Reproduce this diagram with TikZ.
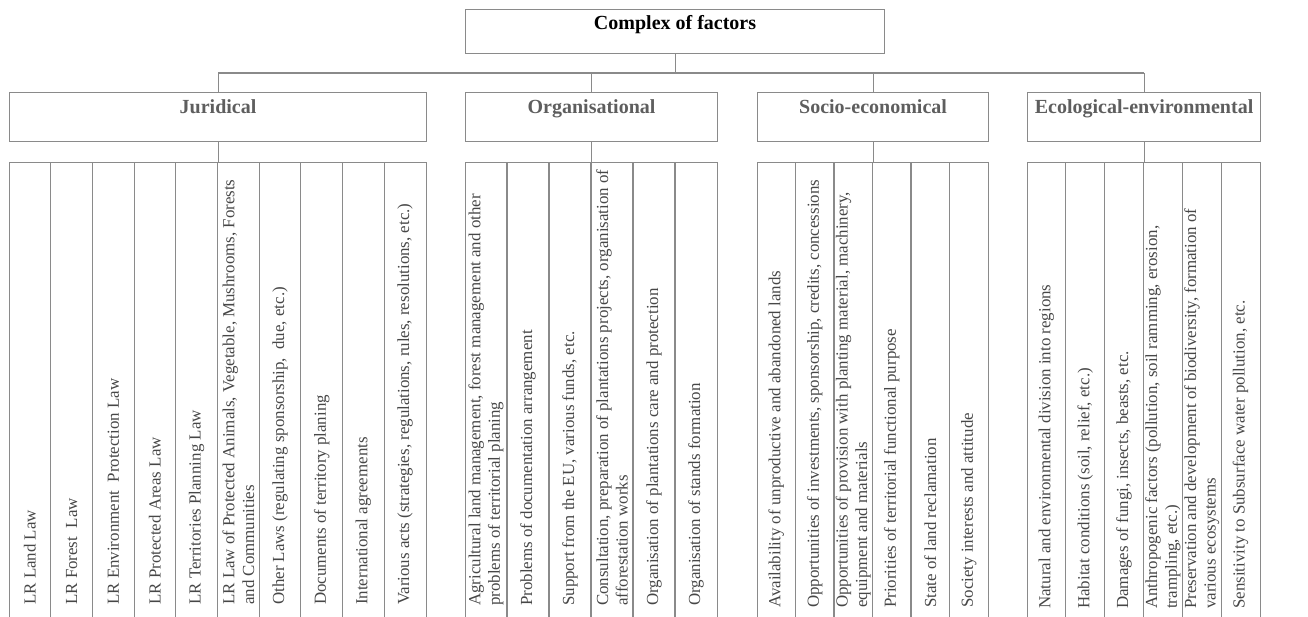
\documentclass[tikz,border=0pt]{standalone}
\usepackage{fontspec}
\setmainfont{Liberation Serif}
\usetikzlibrary{positioning}

\definecolor{linegray}{HTML}{8A8A8A}
\definecolor{headgray}{HTML}{5E5E5E}
\definecolor{itemgray}{HTML}{474747}

\tikzset{
	box/.style={draw=linegray, line width=1.1pt, anchor=north west, minimum height=49, inner sep=0},
	head/.style={anchor=north, inner sep=7pt, font=\fontsize{20}{22}\selectfont\bfseries, text=headgray},
	item/.style={rotate=90, anchor=west, align=left, inner sep=0, font=\fontsize{16.9}{19.6}\selectfont, text=itemgray},
	link/.style={draw=linegray, line width=1.1pt},
}

\begin{document}
\begin{tikzpicture}[x=1pt, y=-1pt]
		\useasboundingbox (0,0) rectangle (1308,616);
		
		% top box
		\node[box, minimum width=419, minimum height=44, label={[head, inner sep=6pt, text=black]north:Complex of factors}] (top) at (465,9) {};
		
		% groups
		\node[box, minimum width=417, label={[head]north:Juridical}] (jur) at (9,92) {};
		\node[box, minimum width=252, label={[head]north:Organisational}] (org) at (465,92) {};
		\node[box, minimum width=231, label={[head]north:Socio-economical}] (soc) at (757,92) {};
		\node[box, minimum width=233, label={[head]north:Ecological-environmental}] (eco) at (1027,92) {};
		
		% column frames (cut off by the page at the bottom)
		\node[box, minimum width=417, minimum height=480] (colsjur) at (9,162) {};
		\node[box, minimum width=252, minimum height=480] (colsorg) at (465,162) {};
		\node[box, minimum width=231, minimum height=480] (colssoc) at (757,162) {};
		\node[box, minimum width=233, minimum height=480] (colseco) at (1027,162) {};
		
		% connectors
		\coordinate (bus) at (0,73);
		\draw[link] (top.south) -- (top.south |- bus);
		\draw[link] (jur.north |- bus) -- (eco.north |- bus);
		\foreach \g in {jur,org,soc,eco} {
			\draw[link] (\g.north |- bus) -- (\g.north);
			\draw[link] (\g.south) -- (cols\g.north);
		}
		
		% column dividers
		\foreach \x in {1,...,9}
			\draw[link] ([xshift=\x*41.7pt]colsjur.north west) -- ([xshift=\x*41.7pt]colsjur.south west);
		\foreach \x in {1,...,5} {
			\draw[link] ([xshift=\x*42pt]colsorg.north west) -- ([xshift=\x*42pt]colsorg.south west);
			\draw[link] ([xshift=\x*38.5pt]colssoc.north west) -- ([xshift=\x*38.5pt]colssoc.south west);
			\draw[link] ([xshift=\x*38.83pt]colseco.north west) -- ([xshift=\x*38.83pt]colseco.south west);
		}
		
		% juridical items
		\foreach \t [count=\i] in {LR Land Law, LR Forest\ \ Law, LR Environment\ \ Protection Law, LR Protected Areas Law, LR Territories Planning Law, {LR Law of Protected Animals, Vegetable, Mushrooms, Forests\\and Communities}, {Other Laws (regulating sponsorship,\ \ due, etc.)}, Documents of territory planing, International agreements, {Various acts (strategies, regulations, rules, resolutions, etc.)}}
			\node[item] (j\i) at ({9+(\i-0.5)*41.7},605) {\t};
		
		% organisational items
		\foreach \t [count=\i] in {{Agricultural land management, forest management and other\\problems of territorial planing}, Problems of documentation arrangement, {Support from the EU, various funds, etc.}, {Consultation, preparation of plantations projects, organisation of\\afforestation works}, Organisation of plantations care and protection, Organisation of stands formation}
			\node[item] (o\i) at ({465+(\i-0.5)*42},606) {\t};
		
		% socio-economical items
		\foreach \t [count=\i] in {Availability of unproductive and abandoned lands, {Opportunities of investments, sponsorship, credits, concessions}, {Opportunities of provision with planting material, machinery,\\equipment and materials}, Priorities of territorial functional purpose, State of land reclamation, Society interests and attitude}
			\node[item] (s\i) at ({757+(\i-0.5)*38.5},608) {\t};
		
		% ecological items
		\foreach \t [count=\i] in {Natural and environmental division into regions, {Habitat conditions (soil, relief, etc.)}, {Damages of fungi, insects, beasts, etc.}, {Anthropogenic factors (pollution, soil ramming, erosion,\\trampling, etc.)}, {Preservation and development of biodiversity, formation of\\various ecosystems}, {Sensitivity to Subsurface water pollution, etc.}}
			\node[item] (e\i) at ({1027+(\i-0.5)*38.83},609) {\t};
	\end{tikzpicture}
\end{document}
